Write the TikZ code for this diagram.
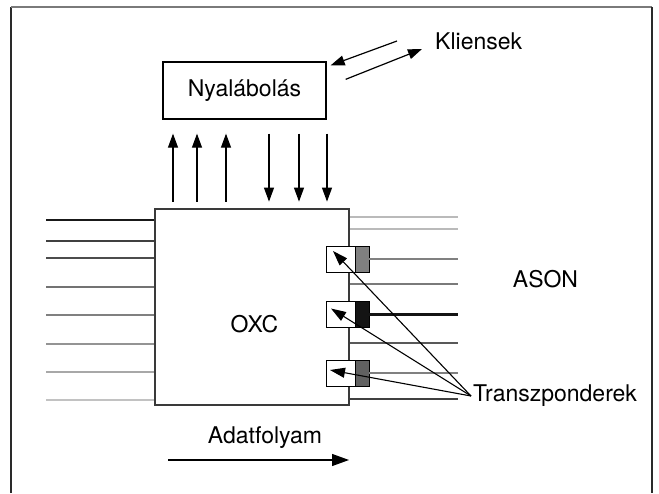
\documentclass[tikz,border=0pt]{standalone}
\usepackage{fontspec}
\setmainfont{TeX Gyre Heros}
\usepackage{tikz}
\usetikzlibrary{positioning,calc,arrows.meta}
\definecolor{oxcedge}{HTML}{3a3a3a}
\definecolor{framedark}{HTML}{2a2a2a}
\definecolor{frametop}{HTML}{7a7a7a}

\begin{document}
\begin{tikzpicture}[x=1pt, y=-1pt,
    every node/.style={font=\fontsize{23}{28}\selectfont},
    fiber/.style={line width=2.4pt},
    arr/.style={line width=1.2pt, -{Triangle[length=14pt,width=10pt]}},
    tparr/.style={line width=1.1pt, -{Triangle[length=15pt,width=10pt]}},
    tpbox/.style={draw, line width=0.9pt, fill=white, minimum width=29pt,
      minimum height=26pt, inner sep=0pt, outer sep=0pt},
    tpcol/.style={draw, line width=0.9pt, minimum width=14pt,
      minimum height=26pt, inner sep=0pt, outer sep=0pt}]
  \useasboundingbox (0,0) rectangle (659,493);

  % Frame
  \draw[line width=1.3pt, framedark] (11,493) -- (11,7);
  \draw[line width=1.3pt, frametop] (11,7) -- (652,7);
  \draw[line width=1.3pt, framedark] (652,7) -- (652,493);

  % OXC box
  \node[draw=oxcedge, line width=2.8pt, minimum width=194pt, minimum height=196pt,
    inner sep=0pt] (oxc) at (252,307) {};
  \node (oxclabel) at ($(oxc.center)+(2.5,17.5)$) {OXC};

  % Input fibers (left)
  \foreach \y/\c in {220/black!90, 241/black!75, 258/black!70, 287/black!55,
                     315/black!50, 344/black!42, 372/black!34, 400/black!24}
    \draw[fiber, \c] (46,\y) -- (oxc.west |- 0,\y);

  % Output fibers (right)
  \foreach \y/\c in {217/black!27, 229/black!27, 284/black!52, 343/black!65, 399/black!75}
    \draw[fiber, \c] (oxc.east |- 0,\y) -- (458,\y);

  % Transponders
  \node[tpbox] (tp1) at (340.5,259) {};
  \node[tpcol, fill=black!50, right=0pt of tp1] (tc1) {};
  \node[tpbox] (tp2) at (340.5,314.5) {};
  \node[tpcol, fill=black!92, right=0pt of tp2] (tc2) {};
  \node[tpbox] (tp3) at (340.5,373) {};
  \node[tpcol, fill=black!62, right=0pt of tp3] (tc3) {};

  \draw[fiber, black!50] (tc1.east) -- (tc1.east -| 458,0);
  \draw[fiber, black!92] (tc2.east) -- (tc2.east -| 458,0);
  \draw[fiber, black!50] (tc3.east) -- (tc3.east -| 458,0);

  \node[anchor=west, inner sep=2pt] (tlabel) at (471,396) {Transzponderek};
  \draw[tparr] (tlabel.west) -- ($(tp1.north west)+(7,5)$);
  \draw[tparr] (tlabel.west) -- ($(tp2.north west)+(5,7)$);
  \draw[tparr] (tlabel.west) -- ($(tp3.north west)+(4,10)$);

  \node (ason) at (545.5,279) {ASON};

  % Grooming block and its links
  \node[draw, line width=1.3pt, minimum width=163pt, minimum height=57pt]
    (beam) at (244.5,90.5) {Nyalábolás};

  \foreach \x in {173,197,226}
    \draw[arr] ($(oxc.north -| \x,0)+(0,-6)$) -- ($(beam.south -| \x,0)+(0,14)$);
  \foreach \x in {269,299,327}
    \draw[arr] ($(beam.south -| \x,0)+(0,14)$) -- ($(oxc.north -| \x,0)+(0,-6)$);

  % Clients
  \node[anchor=west, inner sep=0pt] (kl) at (435,41) {Kliensek};
  \draw[arr] ($(kl.west)+(-38,0)$) -- ($(beam.north east)+(4,4)$);
  \draw[arr] ($(beam.north east)+(19,18)$) -- ($(kl.west)+(-13,8)$);

  % Data flow
  \node (flow) at (265,438) {Adatfolyam};
  \draw[line width=1.2pt, -{Triangle[length=17pt,width=12pt]}]
    ($(flow.center)+(-97,22)$) -- ($(flow.center)+(84,22)$);
\end{tikzpicture}
\end{document}
